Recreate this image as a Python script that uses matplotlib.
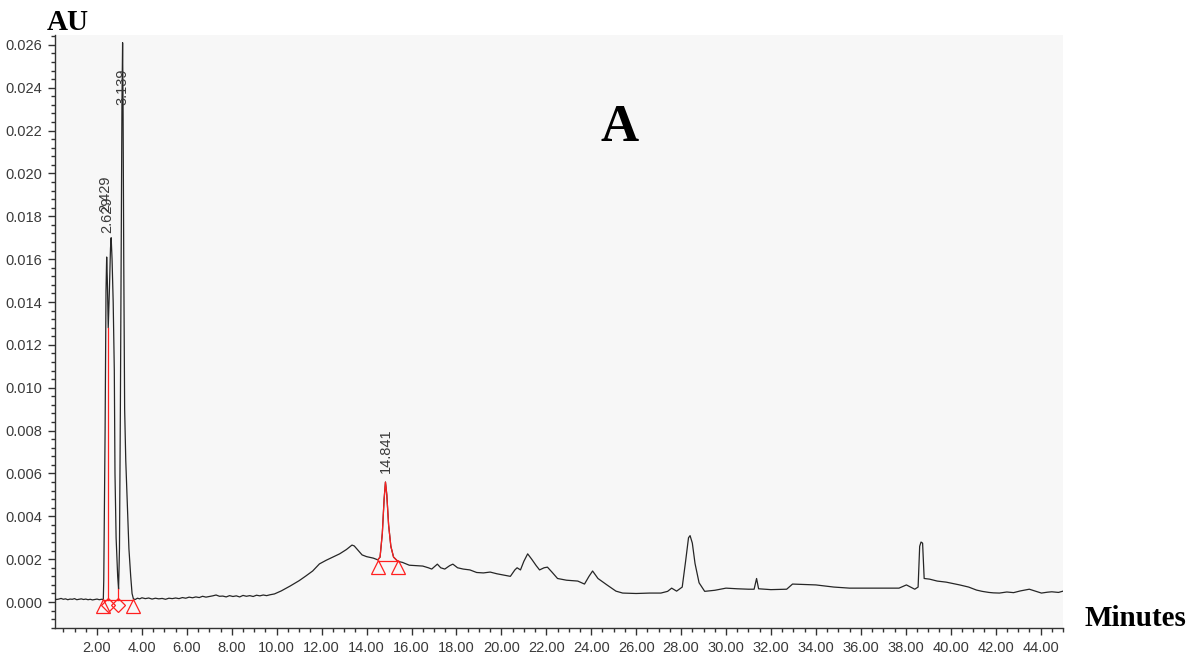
import matplotlib
matplotlib.use("Agg")
import matplotlib.pyplot as plt
from matplotlib.ticker import MultipleLocator, FormatStrFormatter

# ---- data ----
time_min = [0.13, 0.2, 0.3, 0.4, 0.5, 0.6, 0.7, 0.8, 0.9, 1.0, 1.1, 1.2, 1.3, 1.4, 1.5,
            1.6, 1.7, 1.8, 1.9, 2.0, 2.1, 2.2, 2.28,
            2.30, 2.36, 2.40, 2.43, 2.46, 2.50, 2.55, 2.60, 2.63, 2.67, 2.72, 2.77,
            2.80, 2.85, 2.92, 2.96, 3.00, 3.04, 3.08, 3.11, 3.139, 3.16, 3.19, 3.23,
            3.28, 3.35, 3.42, 3.50, 3.56, 3.62,
            3.7, 3.8, 3.9, 4.0, 4.15, 4.3, 4.45, 4.6, 4.75, 4.9, 5.05, 5.2, 5.35, 5.5,
            5.65, 5.8, 5.95, 6.1, 6.25, 6.4, 6.55, 6.7, 6.85, 7.0, 7.15, 7.3, 7.45, 7.6,
            7.75, 7.9, 8.05, 8.2, 8.35, 8.5, 8.65, 8.8, 8.95, 9.1, 9.25, 9.4, 9.55, 9.7,
            9.9, 10.2, 10.6, 11.0, 11.3, 11.6, 11.9, 12.2, 12.5, 12.8, 13.1, 13.25, 13.35,
            13.45, 13.55, 13.8, 14.0, 14.3, 14.5,
            14.6, 14.7, 14.78, 14.84, 14.9, 14.98, 15.08, 15.2, 15.39,
            15.6, 15.9, 16.2, 16.5, 16.75, 16.9, 17.15, 17.3, 17.48, 17.7, 17.84,
            18.05, 18.3, 18.6, 18.9, 19.2, 19.5, 19.8, 20.1, 20.4, 20.6, 20.7,
            20.85, 21.0, 21.17, 21.35, 21.55, 21.7, 21.9, 22.05, 22.25, 22.5, 22.9,
            23.4, 23.7, 23.9, 24.06, 24.3, 24.7, 25.1, 25.4, 26.0, 26.6, 27.1,
            27.4, 27.58, 27.8, 28.05, 28.2, 28.33, 28.4, 28.5, 28.62, 28.8, 29.05,
            29.5, 30.0, 30.5, 31.0, 31.25, 31.36, 31.45, 32.0, 32.7, 32.96, 33.5,
            34.0, 34.8, 35.5, 36.5, 37.7, 38.03, 38.4, 38.55, 38.62, 38.68, 38.75,
            38.82, 39.06, 39.4, 39.8, 40.4, 40.8, 41.15, 41.4, 41.7, 41.9, 42.17, 42.5,
            42.8, 43.1, 43.5, 43.8, 44.04, 44.3, 44.5, 44.8, 45.0]

absorbance_au = [0.00015, 0.00012, 0.00014, 0.00017, 0.00013, 0.00015, 0.00011, 0.00014, 0.00013, 0.00016, 0.00011, 0.00013, 0.00015, 0.00012, 0.00014,
                 0.00011, 0.00013, 0.00010, 0.00012, 0.00014, 0.00011, 0.00013, 0.00012,
                 0.0010, 0.0080, 0.0145, 0.0161, 0.0150, 0.0128, 0.0145, 0.0165, 0.0170, 0.0160, 0.0140, 0.0108,
                 0.0060, 0.0030, 0.0012, 0.0006, 0.0025, 0.0090, 0.0170, 0.0232, 0.0261, 0.0230, 0.0160, 0.0090,
                 0.0066, 0.0045, 0.0025, 0.0012, 0.0004, 0.00015,
                 0.00012, 0.00018, 0.00015, 0.00020, 0.00016, 0.00019, 0.00014, 0.00018, 0.00015, 0.00017, 0.00013, 0.00018, 0.00016, 0.00019,
                 0.00016, 0.00021, 0.00018, 0.00023, 0.00020, 0.00024, 0.00021, 0.00027, 0.00023, 0.00026, 0.00029, 0.00033, 0.00027, 0.00028,
                 0.00024, 0.00030, 0.00026, 0.00029, 0.00024, 0.00031, 0.00027, 0.00030, 0.00026, 0.00032, 0.00029, 0.00033, 0.00030, 0.00034,
                 0.00038, 0.00052, 0.00075, 0.00100, 0.00122, 0.00145, 0.00178, 0.00195, 0.00210, 0.00225, 0.00245, 0.00258, 0.00266,
                 0.00262, 0.00250, 0.00220, 0.00212, 0.00205, 0.00197,
                 0.00210, 0.00320, 0.00480, 0.00560, 0.00500, 0.00360, 0.00260, 0.00210, 0.00190,
                 0.00185, 0.00172, 0.00170, 0.00168, 0.00160, 0.00154, 0.00177, 0.00160, 0.00154, 0.00170, 0.00177,
                 0.00160, 0.00154, 0.00150, 0.00138, 0.00136, 0.00140, 0.00132, 0.00126, 0.00120, 0.00150, 0.00160,
                 0.00150, 0.00190, 0.00225, 0.00200, 0.00170, 0.00150, 0.00160, 0.00163, 0.00140, 0.00110, 0.00102,
                 0.00098, 0.00084, 0.00120, 0.00145, 0.00110, 0.00080, 0.00051, 0.00042, 0.00040, 0.00042, 0.00042,
                 0.00050, 0.00065, 0.00051, 0.00070, 0.00190, 0.00300, 0.00310, 0.00275, 0.00180, 0.00090, 0.00050,
                 0.00055, 0.00065, 0.00062, 0.00060, 0.00060, 0.00110, 0.00062, 0.00058, 0.00060, 0.00084, 0.00082,
                 0.00080, 0.00070, 0.00065, 0.00065, 0.00065, 0.00080, 0.00060, 0.00070, 0.00260, 0.00280, 0.00275,
                 0.00110, 0.00107, 0.00098, 0.00093, 0.00080, 0.00070, 0.00056, 0.00050, 0.00045, 0.00043, 0.00042, 0.00047,
                 0.00044, 0.00052, 0.00060, 0.00050, 0.00042, 0.00046, 0.00048, 0.00045, 0.00051]

peak_labels = ["2.429", "2.629", "3.139", "14.841"]
label_times = [2.38, 2.46, 3.139, 14.841]
label_bottoms = [0.0182, 0.0172, 0.0232, 0.0060]

integrated_window = (14.5, 15.39)
window_baseline = 0.0019
window_marker_au = 0.00163

early_baseline_times = [2.28, 3.62]
early_baseline_au = 0.0001
drop_times = [2.50, 2.95]
drop_tops = [0.0128, 0.0006]
early_triangles = [2.28, 3.62]
early_diamonds = [2.50, 2.95]
early_marker_au = -0.00018

x_ticks = [2 * i for i in range(1, 23)]
y_ticks = [0.002 * i for i in range(0, 14)]

# ---- figure ----
fig = plt.figure(figsize=(12.04, 6.57), dpi=100)
ax = fig.add_axes([55 / 1204, 1 - 628 / 657, (1063 - 55) / 1204, (628 - 35) / 657])
ax.set_facecolor("#f7f7f7")

ax.plot(time_min, absorbance_au, color="#262626", lw=0.9, zorder=3)

# integrated peak in red
seg_t = [t for t in time_min if integrated_window[0] <= t <= integrated_window[1]]
seg_v = [v for t, v in zip(time_min, absorbance_au) if integrated_window[0] <= t <= integrated_window[1]]
ax.plot(seg_t, seg_v, color="#ff2020", lw=0.9, zorder=4)
ax.plot(list(integrated_window), [window_baseline, window_baseline], color="#ff2020", lw=0.9, zorder=4)
ax.plot(list(integrated_window), [window_marker_au, window_marker_au], ls="none", marker="^",
        ms=10, mfc="none", mec="#ff2020", mew=0.9, zorder=5)

# early peak group integration marks
ax.plot(early_baseline_times, [early_baseline_au] * 2, color="#ff2020", lw=0.9, zorder=4)
for t, top in zip(drop_times, drop_tops):
    ax.plot([t, t], [early_baseline_au, top], color="#ff2020", lw=0.9, zorder=4)
ax.plot(early_triangles, [early_marker_au] * 2, ls="none", marker="^", ms=10,
        mfc="none", mec="#ff2020", mew=0.9, zorder=5)
ax.plot(early_diamonds, [early_marker_au + 0.00005] * 2, ls="none", marker="D", ms=7,
        mfc="none", mec="#ff2020", mew=0.9, zorder=5)

for lab, t, b in zip(peak_labels, label_times, label_bottoms):
    ax.text(t, b, lab, rotation=90, ha="center", va="bottom", fontsize=10.5,
            family="Liberation Sans", color="#3a3a3a", zorder=6)

ax.set_xlim(0.13, 45.0)
ax.set_ylim(-0.00121, 0.02646)
ax.set_xticks(x_ticks)
ax.set_yticks(y_ticks)
ax.xaxis.set_minor_locator(MultipleLocator(0.5))
ax.yaxis.set_minor_locator(MultipleLocator(0.0004))
ax.xaxis.set_major_formatter(FormatStrFormatter("%.2f"))
ax.yaxis.set_major_formatter(FormatStrFormatter("%.3f"))

for s in ["top", "right"]:
    ax.spines[s].set_visible(False)
for s in ["left", "bottom"]:
    ax.spines[s].set_color("#333333")
    ax.spines[s].set_linewidth(1.0)
ax.tick_params(which="major", length=5, width=1, color="#333333", labelsize=10.5,
               labelcolor="#3a3a3a", pad=4)
ax.tick_params(which="minor", length=3, width=1, color="#333333")
for lbl in ax.get_xticklabels() + ax.get_yticklabels():
    lbl.set_family("Liberation Sans")

fig.text(68 / 1204, 1 - 22 / 657, "AU", family="Liberation Serif", fontweight="bold",
         fontsize=21, ha="center", va="center", color="black")
fig.text(1135 / 1204, 1 - 619 / 657, "Minutes", family="Liberation Serif", fontweight="bold",
         fontsize=21, ha="center", va="center", color="black")
fig.text(620 / 1204, 1 - 128 / 657, "A", family="Liberation Serif", fontweight="bold",
         fontsize=38, ha="center", va="center", color="black")

fig.savefig("out.png", dpi=100, facecolor="white")
